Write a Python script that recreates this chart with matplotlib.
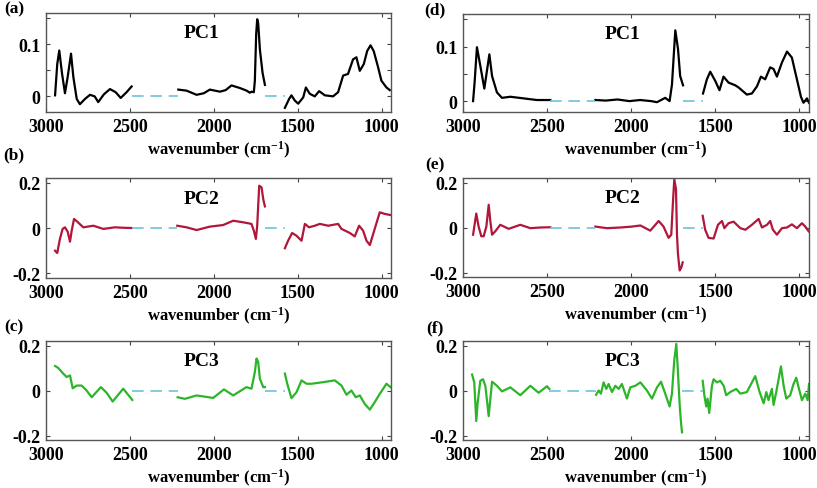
import matplotlib
matplotlib.use("Agg")
import matplotlib.pyplot as plt

plt.rcParams['font.family'] = ['Liberation Serif', 'DejaVu Serif']
plt.rcParams['font.weight'] = 'bold'
plt.rcParams['mathtext.fontset'] = 'custom'
plt.rcParams['mathtext.rm'] = 'Liberation Serif:bold'
plt.rcParams['mathtext.bf'] = 'Liberation Serif:bold'
plt.rcParams['mathtext.default'] = 'bf'

# ---- data: each panel has three spectral windows (wavenumber, loading) ----
# (a) PC1, left column
a_wn = [[2946, 2933, 2921, 2905, 2887, 2871, 2851, 2837, 2817, 2798, 2768, 2738, 2710, 2689, 2655, 2619, 2585, 2555, 2520, 2490],
        [2212, 2163, 2103, 2060, 2024, 1964, 1930, 1895, 1845, 1805, 1786, 1776, 1762, 1756, 1748, 1742, 1736, 1726, 1710, 1696],
        [1577, 1552, 1538, 1518, 1498, 1468, 1452, 1429, 1399, 1373, 1339, 1290, 1260, 1230, 1201, 1171, 1151, 1131,
         1107, 1087, 1067, 1048, 1022, 1002, 972, 952]]
a_val = [[0.002, 0.062, 0.088, 0.045, 0.006, 0.037, 0.082, 0.037, -0.005, -0.015, -0.005, 0.003, 0.0, -0.011, 0.004, 0.014, 0.008, -0.003, 0.008, 0.019],
         [0.013, 0.011, 0.003, 0.006, 0.013, 0.009, 0.012, 0.021, 0.016, 0.011, 0.007, 0.009, 0.008, 0.03, 0.12, 0.148, 0.14, 0.09, 0.045, 0.022],
         [-0.022, -0.005, 0.002, -0.008, -0.014, -0.002, 0.017, 0.005, 0.0, 0.01, 0.002, 0.0, 0.008, 0.04, 0.043, 0.071, 0.075, 0.049,
          0.062, 0.087, 0.098, 0.087, 0.056, 0.03, 0.017, 0.012]]

# (b) PC2, left column
b_wn = [[2946, 2933, 2917, 2901, 2887, 2871, 2857, 2847, 2833, 2814, 2778, 2718, 2659, 2589, 2540, 2490],
        [2218, 2163, 2103, 2024, 1945, 1885, 1825, 1776, 1762, 1750, 1742, 1730, 1716, 1706, 1696],
        [1577, 1558, 1534, 1508, 1478, 1458, 1433, 1399, 1369, 1319, 1260, 1240, 1190, 1161, 1135, 1111,
         1091, 1071, 1042, 1012, 982, 948]]
b_val = [[-0.1, -0.11, -0.048, -0.004, 0.003, -0.016, -0.06, -0.012, 0.04, 0.028, 0.003, 0.01, -0.004, 0.003, 0.001, 0.0],
         [0.01, 0.003, -0.009, 0.006, 0.013, 0.032, 0.025, 0.018, -0.012, -0.048, 0.01, 0.186, 0.179, 0.127, 0.095],
         [-0.089, -0.056, -0.022, -0.034, -0.056, 0.018, 0.003, 0.01, 0.018, 0.01, 0.018, -0.004, -0.022, -0.037, 0.01, -0.012,
          -0.056, -0.075, -0.004, 0.069, 0.062, 0.057]]

# (c) PC3, left column
c_wn = [[2946, 2927, 2897, 2877, 2857, 2841, 2817, 2788, 2758, 2728, 2673, 2639, 2603, 2540, 2486],
        [2216, 2173, 2103, 2004, 1940, 1885, 1806, 1776, 1756, 1746, 1736, 1726, 1706, 1696],
        [1577, 1563, 1538, 1508, 1478, 1448, 1419, 1349, 1280, 1240, 1210, 1181, 1155, 1131, 1101, 1071,
         1042, 1012, 972, 948]]
c_val = [[0.109, 0.1, 0.075, 0.06, 0.067, 0.01, 0.022, 0.022, 0.0, -0.03, 0.015, -0.01, -0.049, 0.008, -0.042],
         [-0.03, -0.037, -0.022, -0.033, 0.005, -0.022, 0.015, 0.008, 0.082, 0.142, 0.127, 0.052, 0.015, 0.015],
         [0.075, 0.03, -0.034, -0.008, 0.045, 0.03, 0.03, 0.037, 0.045, 0.022, -0.019, 0.0, -0.03, -0.022, -0.06, -0.085,
          -0.052, -0.015, 0.03, 0.015]]

# (d) PC1, right column
d_wn = [[2940, 2931, 2917, 2897, 2873, 2843, 2827, 2798, 2768, 2718, 2639, 2560, 2480],
        [2212, 2150, 2080, 2010, 1945, 1880, 1845, 1796, 1770, 1756, 1736, 1720, 1707, 1690],
        [1571, 1548, 1528, 1498, 1473, 1449, 1419, 1379, 1359, 1310, 1280, 1250, 1226, 1201, 1171, 1151,
         1131, 1101, 1071, 1042, 1012, 988, 973, 952, 940]]
d_val = [[0.0, 0.034, 0.099, 0.065, 0.023, 0.086, 0.046, 0.016, 0.006, 0.008, 0.005, 0.002, 0.002],
         [0.002, 0.001, 0.003, 0.0, 0.002, 0.0, -0.002, 0.006, 0.0, 0.03, 0.13, 0.096, 0.046, 0.029],
         [0.014, 0.04, 0.054, 0.037, 0.02, 0.045, 0.034, 0.029, 0.025, 0.012, 0.014, 0.027, 0.045, 0.04, 0.062, 0.059,
          0.045, 0.071, 0.091, 0.08, 0.04, 0.008, -0.003, 0.005, -0.003]]

# (e) PC2, right column
e_wn = [[2940, 2921, 2907, 2891, 2877, 2861, 2847, 2837, 2827, 2808, 2778, 2728, 2659, 2599, 2540, 2480],
        [2212, 2143, 2063, 1994, 1944, 1885, 1835, 1806, 1776, 1760, 1750, 1742, 1732, 1726, 1720, 1710, 1700, 1692],
        [1573, 1558, 1538, 1508, 1482, 1458, 1444, 1419, 1389, 1349, 1319, 1280, 1240, 1220, 1190, 1171,
         1155, 1131, 1101, 1071, 1042, 1012, 982, 962, 942]]
e_val = [[-0.032, 0.062, 0.004, -0.039, -0.039, 0.004, 0.101, 0.026, -0.032, -0.017, 0.012, -0.006, 0.012, -0.003, 0.0, 0.001],
         [0.004, -0.003, 0.0, 0.004, 0.009, -0.014, 0.029, 0.004, -0.046, -0.032, 0.113, 0.214, 0.171, -0.032, -0.119, -0.191, -0.177, -0.155],
         [0.052, -0.01, -0.046, -0.049, 0.012, 0.029, -0.003, 0.019, 0.026, -0.003, -0.01, 0.012, 0.038, 0.0, 0.012, 0.029,
          -0.01, -0.032, -0.003, 0.0, 0.014, -0.003, 0.019, 0.004, -0.017]]

# (f) PC3, right column
f_wn = [[2946, 2933, 2921, 2913, 2897, 2881, 2867, 2847, 2837, 2827, 2798, 2768, 2718, 2659, 2599, 2550, 2500, 2486],
        [2208, 2192, 2179, 2163, 2147, 2133, 2113, 2093, 2073, 2054, 2024, 2004, 1974, 1944, 1905, 1875, 1845,
         1821, 1796, 1770, 1756, 1742, 1730, 1722, 1710, 1702, 1696],
        [1573, 1563, 1552, 1544, 1534, 1518, 1508, 1488, 1468, 1448, 1433, 1409, 1373, 1349, 1310, 1260, 1234,
         1210, 1194, 1181, 1161, 1151, 1135, 1121, 1107, 1091, 1075, 1052, 1032, 1016, 1002, 982, 962, 948, 940]]
f_val = [[0.071, 0.036, -0.136, -0.057, 0.043, 0.05, 0.021, -0.114, -0.036, 0.039, 0.021, -0.004, 0.014, -0.021, 0.021, -0.01, 0.019, 0.007],
         [-0.019, 0.0, -0.014, 0.036, 0.007, 0.029, -0.007, 0.021, 0.007, 0.029, -0.036, 0.014, 0.021, 0.036, 0.0, -0.036, 0.014,
          0.039, -0.014, -0.071, -0.014, 0.136, 0.207, 0.107, -0.064, -0.143, -0.186],
         [0.043, -0.021, -0.071, -0.036, -0.1, 0.021, 0.05, 0.036, 0.043, 0.021, -0.021, -0.007, 0.007, -0.014, -0.007, 0.064, -0.007,
          -0.057, -0.007, -0.043, 0.007, -0.064, -0.007, 0.05, 0.107, 0.021, -0.036, -0.021, 0.029, 0.057, 0.014, -0.043, -0.014, -0.043, 0.029]]

panel_letters = ['(a)', '(b)', '(c)', '(d)', '(e)', '(f)']
pc_names = ['PC1', 'PC2', 'PC3']
x_ticks = [3000, 2500, 2000, 1500, 1000]

W, H = 817, 489
fig = plt.figure(figsize=(W / 100, H / 100), dpi=100)

def px_axes(x0, y0, x1, y1):
    # pixel box (top-left origin) -> figure axes
    return fig.add_axes([x0 / W, 1 - y1 / H, (x1 - x0) / W, (y1 - y0) / H])

line_colors = ['black', '#b0173a', '#2db52a']
dash_color = '#6cc3dc'

panels = [
    (a_wn, a_val, (46, 14, 391, 113), (3000, 945), (-0.03, 0.16), 0),
    (b_wn, b_val, (46, 179, 391, 279), (3000, 945), (-0.22, 0.22), 1),
    (c_wn, c_val, (46, 342, 391, 441), (3000, 945), (-0.22, 0.22), 2),
    (d_wn, d_val, (463, 15, 809, 113), (3000, 940), (-0.02, 0.16), 0),
    (e_wn, e_val, (463, 179, 809, 278), (3000, 940), (-0.22, 0.22), 1),
    (f_wn, f_val, (463, 342, 809, 441), (3000, 940), (-0.22, 0.22), 2),
]

for i, (wn, val, box, xl, yl, k) in enumerate(panels):
    ax = px_axes(*box)
    for seg_w, seg_v in zip(wn, val):
        ax.plot(seg_w, seg_v, color=line_colors[k], lw=1.6)
    # dashed zero line across the removed windows
    for j in range(len(wn) - 1):
        ax.plot([wn[j][-1], wn[j + 1][0]], [0, 0], color=dash_color, lw=1.2, dashes=(7, 4))
    ax.set_xlim(*xl)
    ax.set_ylim(*yl)
    ax.set_xticks(x_ticks)
    if k == 0:
        ax.set_yticks([0, 0.05, 0.1, 0.15])
        ax.set_yticklabels(['0', '', '0.1', ''])
    else:
        ax.set_yticks([-0.2, 0, 0.2])
        ax.set_yticklabels(['-0.2', '0', '0.2'])
    ax.tick_params(direction='in', top=True, right=True, length=3, width=0.8,
                   labelsize=13, pad=4, color='#444444')
    for lab in ax.get_xticklabels() + ax.get_yticklabels():
        lab.set_fontweight('bold')
    for s in ax.spines.values():
        s.set_color('#555555')
        s.set_linewidth(1.0)
    ax.set_xlabel('wavenumber (cm$^{-1}$)', fontsize=12, fontweight='bold', labelpad=3)
    ax.text(0.45 if box[0] < 400 else 0.46, 0.8, pc_names[k], transform=ax.transAxes,
            ha='center', va='center', fontsize=14, fontweight='bold')
    lx = 14 if box[0] < 400 else 435
    ly = [9, 155, 327][k] if box[0] < 400 else [10, 165, 328][k]
    fig.text(lx / W, 1 - ly / H, panel_letters[i], ha='center', va='center',
             fontsize=12.5, fontweight='bold')

fig.savefig('out.png', dpi=100)
